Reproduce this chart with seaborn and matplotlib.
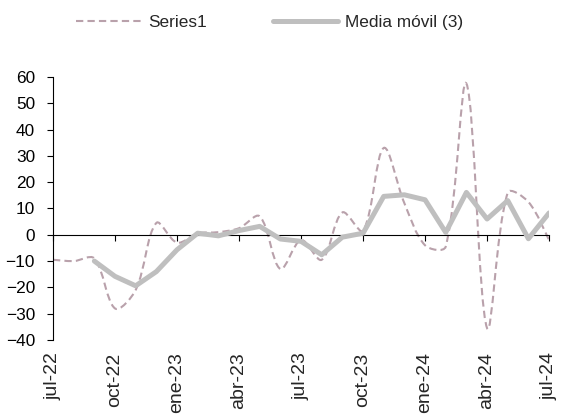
import numpy as np
import pandas as pd
import matplotlib
matplotlib.use('Agg')
import matplotlib.pyplot as plt
import seaborn as sns
from matplotlib.path import Path
from matplotlib.patches import PathPatch
from matplotlib.lines import Line2D

# monthly data jul-22 .. jul-24
months = ['jul-22', 'ago-22', 'sep-22', 'oct-22', 'nov-22', 'dic-22',
          'ene-23', 'feb-23', 'mar-23', 'abr-23', 'may-23', 'jun-23',
          'jul-23', 'ago-23', 'sep-23', 'oct-23', 'nov-23', 'dic-23',
          'ene-24', 'feb-24', 'mar-24', 'abr-24', 'may-24', 'jun-24', 'jul-24']
series1 = [-9.5, -10, -9, -28, -21, 4.5, -3, 0.5, 1, 2.5, 7, -13,
           -2, -9.5, 8.5, 1.5, 33, 12, -4, -4.5, 57.5, -35.5, 16, 12.5, -2]
media_movil = [np.nan, np.nan, -10, -15.8, -19.4, -14, -5.7, 0.6, -0.4, 1.6, 3.2, -1.6,
               -2.5, -7.6, -0.9, 0.6, 14.6, 15.2, 13.3, 0.9, 16.1, 6, 13, -1.5, 8.3]
tick_labels = ['jul-22', 'oct-22', 'ene-23', 'abr-23', 'jul-23',
               'oct-23', 'ene-24', 'abr-24', 'jul-24']

df = pd.DataFrame({'pos': np.arange(len(months)), 'mes': months,
                   'Series1': series1, 'Media móvil (3)': media_movil})

sns.set_style('white')
plt.rcParams['font.family'] = ['Liberation Sans', 'DejaVu Sans']

c_series = '#B9A1AB'
c_ma = '#BFBFBF'

fig = plt.figure(figsize=(5.62, 4.16), dpi=100)
ax = fig.add_axes([0.0943, 0.1827, 0.8827, 0.6323])
ax.set_xlim(0, len(months) - 1)
ax.set_ylim(-40, 60)


def smooth_path(ax, x, y):
    # excel-like smoothed line: bezier with chord-length weighted tangents
    # (computed in screen space, then mapped back to data)
    pts = ax.transData.transform(np.column_stack([x, y]).astype(float))
    n = len(pts)
    verts = [pts[0]]
    codes = [Path.MOVETO]
    for i in range(n - 1):
        p0 = pts[max(i - 1, 0)]
        p1 = pts[i]
        p2 = pts[i + 1]
        p3 = pts[min(i + 2, n - 1)]
        d01 = np.hypot(*(p1 - p0))
        d12 = np.hypot(*(p2 - p1))
        d23 = np.hypot(*(p3 - p2))
        f1 = d12 / (d01 + d12) / 3 if d01 > 0 else 1 / 6
        f2 = d12 / (d12 + d23) / 3 if d23 > 0 else 1 / 6
        verts += [p1 + (p2 - p0) * f1, p2 - (p3 - p1) * f2, p2]
        codes += [Path.CURVE4] * 3
    verts = ax.transData.inverted().transform(np.array(verts))
    return Path(verts, codes)


ax.add_patch(PathPatch(smooth_path(ax, df['pos'], df['Series1']), fill=False,
                       edgecolor=c_series, lw=1.5, linestyle=(0, (3.5, 2)),
                       zorder=2))
sns.lineplot(data=df, x='pos', y='Media móvil (3)', ax=ax, color=c_ma,
             lw=3.6, zorder=3)

ax.set_xlim(0, len(months) - 1)
ax.set_ylim(-40, 60)
ax.set_yticks(range(-40, 61, 10))
ax.set_xlabel('')
ax.set_ylabel('')

for s in ['top', 'right']:
    ax.spines[s].set_visible(False)
ax.spines['bottom'].set_position(('data', 0))
for s in ['left', 'bottom']:
    ax.spines[s].set_color('black')
    ax.spines[s].set_linewidth(0.8)

tick_pos = df['pos'][::3].tolist()
ax.set_xticks(tick_pos)
ax.tick_params(axis='x', direction='out', length=4.5, width=0.8, color='black',
               labelbottom=False, bottom=True)
ax.tick_params(axis='y', direction='out', length=4, width=0.8, color='black',
               labelsize=12.4, labelcolor='black', left=True, pad=9)

sec = ax.secondary_xaxis('bottom')
sec.set_xticks(tick_pos, tick_labels)
sec.spines['bottom'].set_visible(False)
sec.tick_params(length=0, labelsize=14, labelrotation=90, pad=9)

handles = [Line2D([], [], color=c_series, lw=1.5, linestyle=(0, (3.5, 2))),
           Line2D([], [], color=c_ma, lw=3.6)]
fig.legend(handles, ['Series1', 'Media móvil (3)'], loc='center',
           bbox_to_anchor=(0.48, 0.947), ncol=2, frameon=False, fontsize=12.4,
           handlelength=3.8, handletextpad=0.4, columnspacing=3.8)

fig.savefig('out.png', dpi=100)
